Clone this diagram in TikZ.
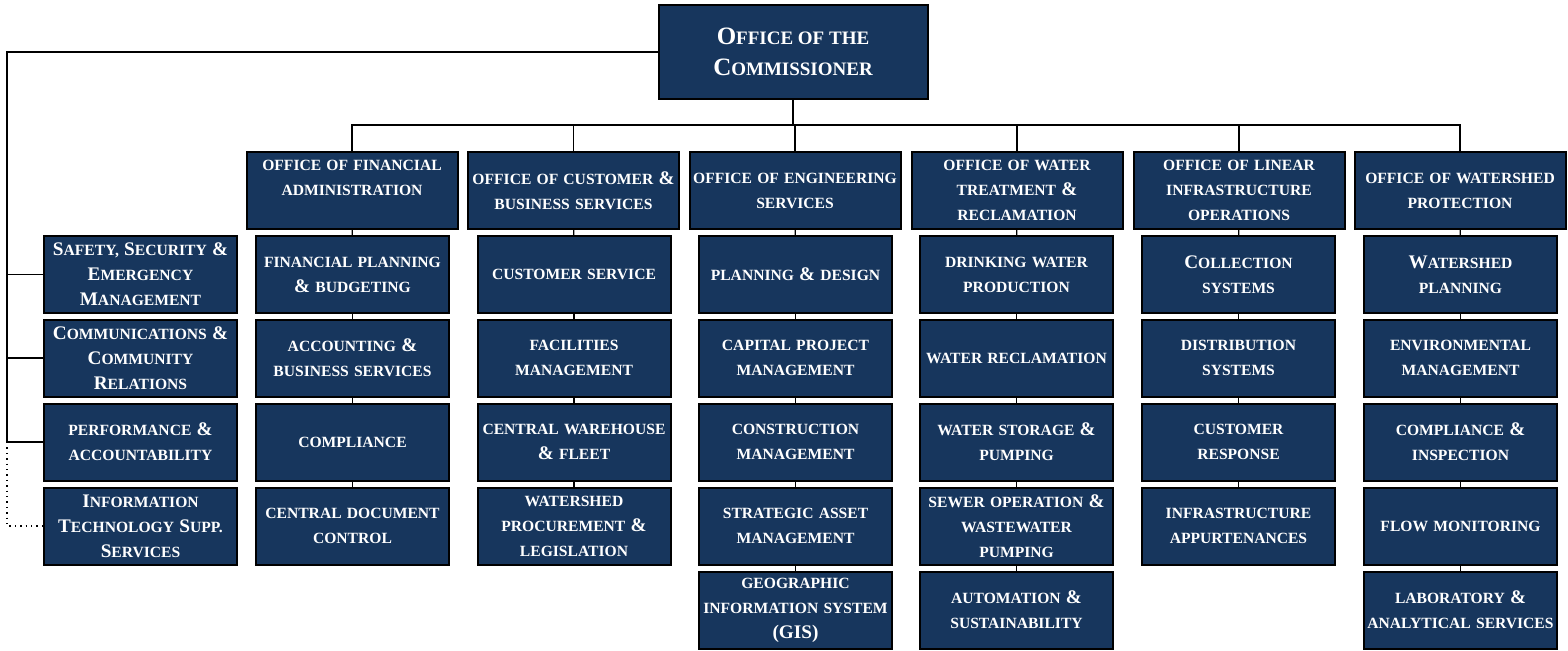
\documentclass[tikz,border=0pt]{standalone}
\usepackage{fontspec}
\setmainfont{Liberation Serif}
\definecolor{navy}{HTML}{17365D}
\newcommand\upc[2][9.6]{{\fontsize{#1}{12.5}\selectfont #2}}
\newcommand\bamp{{\fontsize{9.6}{12.5}\selectfont\&}}
\begin{document}
\begin{tikzpicture}[x=0.5pt,y=-0.5pt,
        box/.style={draw=black,line width=1pt,fill=navy,text=white,align=center,inner sep=1pt,
            font=\bfseries\fontsize{7.8}{12.5}\selectfont},
        office/.style={box,minimum width=105.5pt,minimum height=38.5pt,text width=102pt},
        sub/.style={box,minimum width=96.5pt,minimum height=38.5pt,text width=94pt},
        link/.style={line width=0.7pt}]
        \useasboundingbox(0,0)rectangle(1568,650);
        \node[box,minimum width=134.5pt,minimum height=47pt,font=\bfseries\fontsize{9.5}{15.5}\selectfont](0)at(793,52){\upc[12.5]{O}FFICE OF THE\\\upc[12.5]{C}OMMISSIONER};
        \node[office](1)at(352,190.5){OFFICE OF FINANCIAL\\ADMINISTRATION\\\mbox{}};
        \node[office](2)at(573.5,190.5){OFFICE OF CUSTOMER \bamp\\BUSINESS SERVICES};
        \node[office](3)at(795,190.5){OFFICE OF ENGINEERING\\SERVICES};
        \node[office](4)at(1017,190.5){OFFICE OF WATER\\TREATMENT \bamp\\RECLAMATION};
        \node[office](5)at(1239,190.5){OFFICE OF LINEAR\\INFRASTRUCTURE\\OPERATIONS};
        \node[office](6)at(1460,190.5){OFFICE OF WATERSHED\\PROTECTION};
        \node[sub](11)at(352.5,274.5){FINANCIAL PLANNING\\\bamp\ BUDGETING};
        \node[sub](12)at(352.5,358){ACCOUNTING \bamp\\BUSINESS SERVICES};
        \node[sub](13)at(352.5,442){COMPLIANCE};
        \node[sub](14)at(352.5,526){CENTRAL DOCUMENT\\CONTROL};
        \node[sub](21)at(574,274.5){CUSTOMER SERVICE};
        \node[sub](22)at(574,358){FACILITIES\\MANAGEMENT};
        \node[sub](23)at(574,442){CENTRAL WAREHOUSE\\\bamp\ FLEET};
        \node[sub](24)at(574,526){WATERSHED\\PROCUREMENT \bamp\\LEGISLATION};
        \node[sub](31)at(795.5,274.5){PLANNING \bamp\ DESIGN};
        \node[sub](32)at(795.5,358){CAPITAL PROJECT\\MANAGEMENT};
        \node[sub](33)at(795.5,442){CONSTRUCTION\\MANAGEMENT};
        \node[sub](34)at(795.5,526){STRATEGIC ASSET\\MANAGEMENT};
        \node[sub](35)at(795.5,610){GEOGRAPHIC\\INFORMATION SYSTEM\\\upc{(GIS)}};
        \node[sub](41)at(1016.5,274.5){DRINKING WATER\\PRODUCTION};
        \node[sub](42)at(1016.5,358){WATER RECLAMATION};
        \node[sub](43)at(1016.5,442){WATER STORAGE \bamp\\PUMPING};
        \node[sub](44)at(1016.5,526){SEWER OPERATION \bamp\\WASTEWATER\\PUMPING};
        \node[sub](45)at(1016.5,610){AUTOMATION \bamp\\SUSTAINABILITY};
        \node[sub](51)at(1238.5,274.5){\upc{C}OLLECTION\\SYSTEMS};
        \node[sub](52)at(1238.5,358){DISTRIBUTION\\SYSTEMS};
        \node[sub](53)at(1238.5,442){CUSTOMER\\RESPONSE};
        \node[sub](54)at(1238.5,526){INFRASTRUCTURE\\APPURTENANCES};
        \node[sub](61)at(1460.5,274.5){\upc{W}ATERSHED\\PLANNING};
        \node[sub](62)at(1460.5,358){ENVIRONMENTAL\\MANAGEMENT};
        \node[sub](63)at(1460.5,442){COMPLIANCE \bamp\\INSPECTION};
        \node[sub](64)at(1460.5,526){FLOW MONITORING};
        \node[sub](65)at(1460.5,610){LABORATORY \bamp\\ANALYTICAL SERVICES};
        \node[sub](71)at(140.5,274.5){\upc{S}AFETY, \upc{S}ECURITY \bamp\\\upc{E}MERGENCY\\\upc{M}ANAGEMENT};
        \node[sub](72)at(140.5,358){\upc{C}OMMUNICATIONS \bamp\\\upc{C}OMMUNITY\\\upc{R}ELATIONS};
        \node[sub](73)at(140.5,442){PERFORMANCE \bamp\\ACCOUNTABILITY};
        \node[sub](74)at(140.5,526){\upc{I}NFORMATION\\\upc{T}ECHNOLOGY \upc{S}UPP.\\\upc{S}ERVICES};
        \coordinate(b)at(793,125);
        \coordinate(l1)at(7,52);
        \coordinate(l2)at(7,442);
        \draw[link](0)--(0|-b);
        \draw[link](1.north)|-(b)-|(6.north);
        \draw[link](2)--(2|-b);
        \draw[link](3)--(3|-b);
        \draw[link](4)--(4|-b);
        \draw[link](5)--(5|-b);
        \draw[link](1)--(11);\draw[link](11)--(12);\draw[link](12)--(13);\draw[link](13)--(14);
        \draw[link](2)--(21);\draw[link](21)--(22);\draw[link](22)--(23);\draw[link](23)--(24);
        \draw[link](3)--(31);\draw[link](31)--(32);\draw[link](32)--(33);\draw[link](33)--(34);\draw[link](34)--(35);
        \draw[link](4)--(41);\draw[link](41)--(42);\draw[link](42)--(43);\draw[link](43)--(44);\draw[link](44)--(45);
        \draw[link](5)--(51);\draw[link](51)--(52);\draw[link](52)--(53);\draw[link](53)--(54);
        \draw[link](6)--(61);\draw[link](61)--(62);\draw[link](62)--(63);\draw[link](63)--(64);\draw[link](64)--(65);
        \draw[link](0)--(l1)--(l2)--(73);
        \draw[link](71)--(71-|l1);
        \draw[link](72)--(72-|l1);
        \draw[link,dotted](l2)|-(74);
    \end{tikzpicture}
\end{document}
